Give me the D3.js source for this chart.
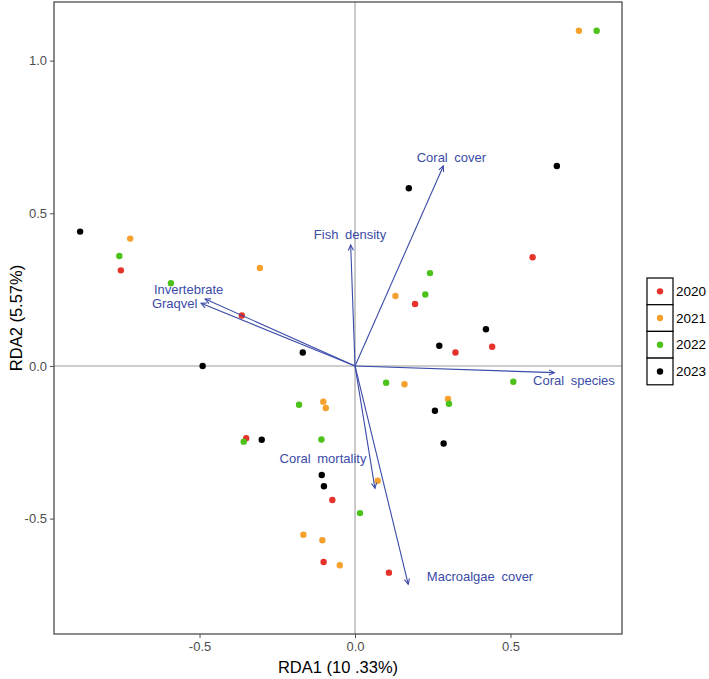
<!DOCTYPE html>
<html>
<head>
<meta charset="utf-8">
<script src="https://cdn.jsdelivr.net/npm/d3@7"></script>
<style>
  body { margin: 0; background: #fff; }
  svg { display: block; font-family: "Liberation Sans", Arial, sans-serif; }
</style>
</head>
<body>
<svg id="chart" width="709" height="679"></svg>
<script>
// ---- data ----
const years = ["2020", "2021", "2022", "2023"];
const yearColors = ["#e5322b", "#f6a12d", "#4cc21a", "#000000"];

const rda1_2020 = [-0.753, -0.364, 0.571, 0.193, 0.323, 0.441, -0.350, -0.073, -0.101, 0.109];
const rda2_2020 = [0.313, 0.165, 0.356, 0.203, 0.044, 0.063, -0.237, -0.439, -0.642, -0.677];

const rda1_2021 = [-0.723, -0.306, 0.130, 0.720, 0.159, 0.299, -0.102, -0.094, 0.073, -0.166, -0.105, -0.049];
const rda2_2021 = [0.417, 0.321, 0.229, 1.098, -0.060, -0.108, -0.117, -0.138, -0.376, -0.553, -0.571, -0.653];

const rda1_2022 = [-0.758, -0.592, 0.241, 0.226, 0.777, 0.100, 0.509, 0.302, -0.180, -0.108, -0.358, 0.016];
const rda2_2022 = [0.360, 0.271, 0.304, 0.234, 1.098, -0.055, -0.052, -0.124, -0.127, -0.241, -0.248, -0.482];

const rda1_2023 = [-0.884, -0.490, -0.168, 0.173, 0.649, 0.421, 0.271, 0.257, 0.285, -0.300, -0.107, -0.100];
const rda2_2023 = [0.440, 0.000, 0.044, 0.582, 0.655, 0.120, 0.066, -0.147, -0.254, -0.242, -0.357, -0.394];

const varNames = ["Coral cover", "Fish density", "Invertebrate", "Graqvel", "Coral species", "Coral mortality", "Macroalgae cover"];
const varRDA1 = [0.284, -0.014, -0.482, -0.495, 0.641, 0.064, 0.171];
const varRDA2 = [0.655, 0.396, 0.219, 0.205, -0.022, -0.401, -0.715];
const labRDA1 = [0.310, -0.016, -0.535, -0.580, 0.704, -0.103, 0.402];
const labRDA2 = [0.683, 0.432, 0.250, 0.203, -0.049, -0.302, -0.690];

const xTicks = [-0.5, 0.0, 0.5];
const yTicks = [-0.5, 0.0, 0.5, 1.0];
const xTitle = "RDA1 (10 .33%)";
const yTitle = "RDA2 (5.57%)";

// ---- layout ----
const svg = d3.select("#chart");
const P = { left: 54, right: 622, top: 2, bottom: 634 };
const x = d3.scaleLinear().domain([-0.968, 0.8585]).range([P.left, P.right]);
const y = d3.scaleLinear().domain([-0.878, 1.192]).range([P.bottom, P.top]);

const grey = "#4d4d4d";
const blue = "#3b4ba8";

// zero lines
svg.append("line").attr("x1", x(0)).attr("x2", x(0)).attr("y1", P.top).attr("y2", P.bottom)
  .attr("stroke", "#bdbdbd").attr("stroke-width", 1.6);
svg.append("line").attr("x1", P.left).attr("x2", P.right).attr("y1", y(0)).attr("y2", y(0))
  .attr("stroke", "#bdbdbd").attr("stroke-width", 1.6);

// axes
const fmt = d => d3.format(".1f")(d).replace("−", "-");
const xAxis = svg.append("g").attr("transform", `translate(0,${P.bottom})`)
  .call(d3.axisBottom(x).tickValues(xTicks).tickFormat(fmt).tickSize(4).tickPadding(4));
const yAxis = svg.append("g").attr("transform", `translate(${P.left},0)`)
  .call(d3.axisLeft(y).tickValues(yTicks).tickFormat(fmt).tickSize(4).tickPadding(3));
[xAxis, yAxis].forEach(g => {
  g.select(".domain").remove();
  g.selectAll("line").attr("stroke", grey).attr("stroke-width", 1);
  g.selectAll("text").attr("fill", grey).style("font-size", "13px")
    .style("font-family", "'Liberation Sans', Arial, sans-serif");
});

// points
const series = [
  [rda1_2020, rda2_2020], [rda1_2021, rda2_2021], [rda1_2022, rda2_2022], [rda1_2023, rda2_2023]
];
series.forEach((s, i) => {
  svg.append("g").selectAll("circle")
    .data(s[0].map((v, j) => [v, s[1][j]]))
    .join("circle")
    .attr("cx", d => x(d[0])).attr("cy", d => y(d[1])).attr("r", 3.2)
    .attr("fill", yearColors[i]);
});

// arrows
const ag = svg.append("g");
varNames.forEach((n, i) => {
  const x0 = x(0), y0 = y(0), x1 = x(varRDA1[i]), y1 = y(varRDA2[i]);
  ag.append("line").attr("x1", x0).attr("y1", y0).attr("x2", x1).attr("y2", y1)
    .attr("stroke", blue).attr("stroke-width", 1.1);
  const ang = Math.atan2(y1 - y0, x1 - x0);
  const L = 6, a = Math.PI / 7;
  const p1 = [x1 - L * Math.cos(ang - a), y1 - L * Math.sin(ang - a)];
  const p2 = [x1 - L * Math.cos(ang + a), y1 - L * Math.sin(ang + a)];
  ag.append("path").attr("d", `M${p1}L${x1},${y1}L${p2}`)
    .attr("fill", "none").attr("stroke", blue).attr("stroke-width", 1.1);
  ag.append("text").attr("x", x(labRDA1[i])).attr("y", y(labRDA2[i]))
    .attr("text-anchor", "middle").attr("dominant-baseline", "central")
    .attr("fill", blue).style("font-size", "13px").style("word-spacing", "3px")
    .text(n);
});

// panel border
svg.append("rect").attr("x", P.left).attr("y", P.top).attr("width", P.right - P.left).attr("height", P.bottom - P.top)
  .attr("fill", "none").attr("stroke", grey).attr("stroke-width", 1.3);

// axis titles
svg.append("text").attr("x", (P.left + P.right) / 2).attr("y", 673).attr("text-anchor", "middle")
  .style("font-size", "16.5px").attr("fill", "#000").text(xTitle);
svg.append("text").attr("transform", `translate(22,${(P.top + P.bottom) / 2}) rotate(-90)`)
  .attr("text-anchor", "middle").style("font-size", "16.5px").attr("fill", "#000").text(yTitle);

// legend
const lg = svg.append("g").attr("transform", "translate(647,278)");
const kh = 26.7, kw = 26;
years.forEach((yr, i) => {
  const g = lg.append("g").attr("transform", `translate(0,${i * kh})`);
  g.append("rect").attr("width", kw).attr("height", kh).attr("fill", "#fff")
    .attr("stroke", "#000").attr("stroke-width", 1.2);
  g.append("circle").attr("cx", kw / 2).attr("cy", kh / 2).attr("r", 3.2).attr("fill", yearColors[i]);
  g.append("text").attr("x", kw + 3).attr("y", kh / 2).attr("dominant-baseline", "central")
    .style("font-size", "13.5px").attr("fill", "#000").text(yr);
});
</script>
</body>
</html>
